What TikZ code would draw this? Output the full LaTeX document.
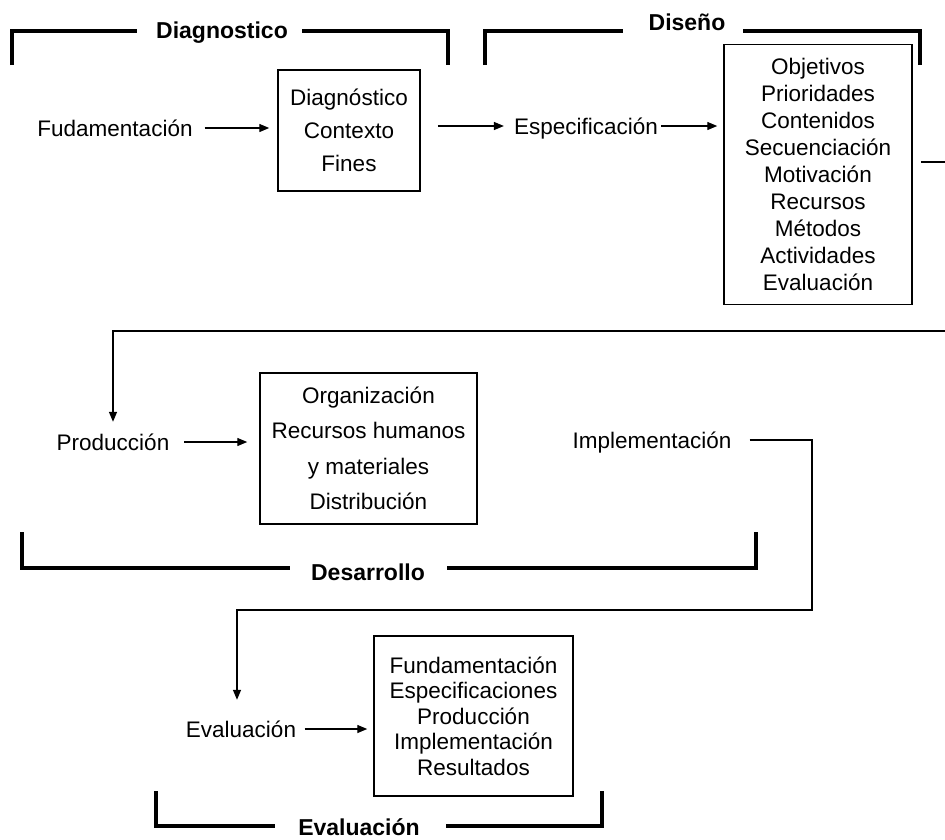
\documentclass[tikz,border=0pt]{standalone}
\usepackage{fontspec}
\setmainfont{Liberation Sans}
\usetikzlibrary{arrows.meta}
\begin{document}
\begin{tikzpicture}[x=1pt,y=-1pt,
  every node/.style={font=\fontsize{22.5}{27}\selectfont},
  lbl/.style={inner sep=0pt, text height=16pt, text depth=0pt},
  phase/.style={lbl, font=\fontsize{23}{27}\selectfont\bfseries},
  itembox/.style={draw, line width=1.5pt, align=center, inner sep=0pt},
  conn/.style={line width=1.4pt, -{Triangle[length=10pt,width=8pt]}},
  bracket/.style={line width=4pt, line cap=butt, line join=miter}]
\useasboundingbox (0,0) rectangle (945,839);
\clip (0,0) rectangle (945,839);

% stage titles
\node[phase] (pDiag) at (222,30) {Diagnostico};
\node[phase] (pDis)  at (687,22) {Diseño};
\node[phase] (pDes)  at (368,572) {Desarrollo};
\node[phase] (pEva)  at (359,827) {Evaluación};

% stage brackets
\draw[bracket] (12,65) -- (12,31) -- (137,31);
\draw[bracket] (302,31) -- (448,31) -- (448,65);
\draw[bracket] (485,65) -- (485,31) -- (623,31);
\draw[bracket] (743,31) -- (920,31) -- (920,65);
\draw[bracket] (22,532) -- (22,568) -- (290,568);
\draw[bracket] (447,568) -- (756,568) -- (756,532);
\draw[bracket] (156,791) -- (156,826) -- (275,826);
\draw[bracket] (446,826) -- (602,826) -- (602,791);

% item boxes
\node[itembox, minimum width=142pt, minimum height=121pt,
      font=\fontsize{22.5}{33}\selectfont] (diag) at (349,130.5)
      {Diagnóstico\\Contexto\\Fines};
\node[itembox, minimum width=188pt, minimum height=260pt,
      font=\fontsize{22.5}{26.9}\selectfont] (dis) at (818,174.5)
      {Objetivos\\Prioridades\\Contenidos\\Secuenciación\\Motivación\\Recursos\\Métodos\\Actividades\\Evaluación};
\node[itembox, minimum width=217pt, minimum height=151pt,
      font=\fontsize{22.5}{35.5}\selectfont] (org) at (368.5,448.5)
      {Organización\\Recursos humanos\\y materiales\\Distribución};
\node[itembox, minimum width=199pt, minimum height=160pt,
      font=\fontsize{22.5}{25.5}\selectfont] (evbox) at (473.5,716)
      {Fundamentación\\Especificaciones\\Producción\\Implementación\\Resultados};

% step labels
\node[lbl] (fud)  at (115,128) {Fudamentación};
\node[lbl] (esp)  at (586,126) {Especificación};
\node[lbl] (prod) at (113,442) {Producción};
\node[lbl] (impl) at (652,440) {Implementación};
\node[lbl] (eval) at (241,729) {Evaluación};

% connectors
\draw[conn, shorten >=8pt] ([xshift=12pt]fud.east) -- (diag.west |- fud.east);
\draw[conn, shorten >=10pt] ([xshift=17pt]diag.east |- esp.west) -- (esp.west);
\draw[conn, shorten >=6pt] ([xshift=3pt]esp.east) -- (dis.west |- esp.east);
\draw[conn, shorten >=12pt] ([xshift=8pt,yshift=12.5pt]dis.east) -| (960,331) -| (prod.north);
\draw[conn, shorten >=12pt] ([xshift=15pt]prod.east) -- (org.west |- prod.east);
\draw[conn, shorten >=21pt] ([xshift=18pt]impl.east) -| (812,610) -| ([xshift=-4pt]eval.north);
\draw[conn, shorten >=6pt] ([xshift=8.5pt]eval.east) -- (evbox.west |- eval.east);
\end{tikzpicture}
\end{document}
